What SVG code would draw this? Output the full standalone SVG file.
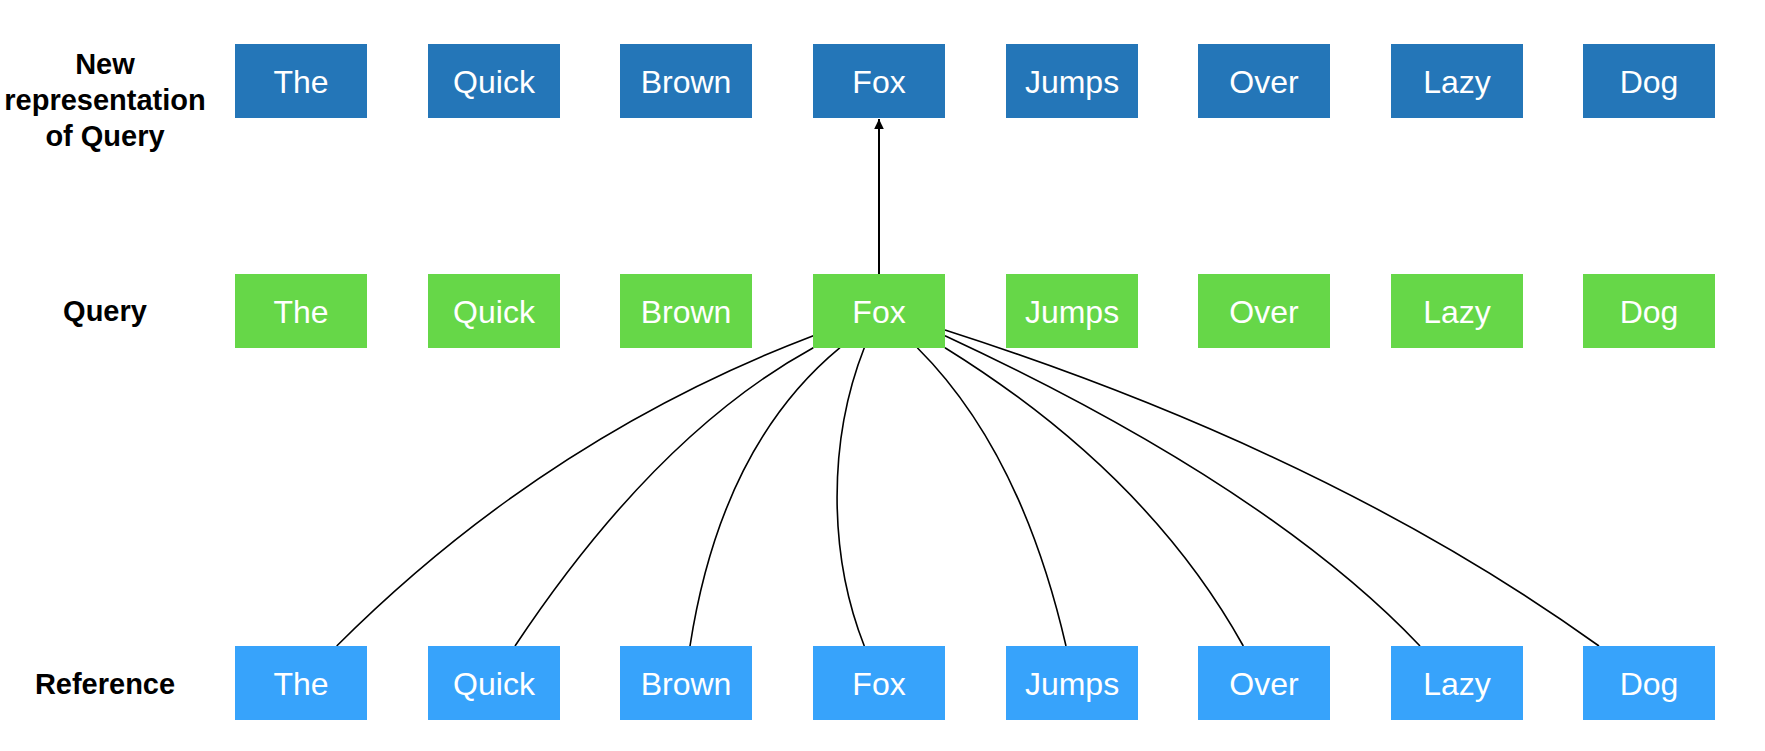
<svg xmlns="http://www.w3.org/2000/svg" width="1765" height="751" viewBox="0 0 1765 751">
<defs>
<style>
.out rect{fill:#2476B8}
.qry rect{fill:#66D748}
.ref rect{fill:#37A3FB}
.node text{font-family:"Liberation Sans",Arial,sans-serif;font-size:32px;fill:#ffffff;text-anchor:middle}
.lbl{font-family:"Liberation Sans",Arial,sans-serif;font-size:29px;font-weight:bold;fill:#000000;text-anchor:middle}
.conn path{fill:none;stroke:#000000;stroke-width:1.6}
.conn .arrow{stroke-width:2}
</style>
<marker id="ah" markerUnits="userSpaceOnUse" markerWidth="12" markerHeight="12" viewBox="0 0 12 12" refX="10" refY="6" orient="auto">
<path d="M0,1.2 L10,6 L0,10.8 Z" fill="#000000"/>
</marker>
</defs>
<rect width="1765" height="751" fill="#ffffff"/>

<g id="labels">
<text class="lbl" x="105" y="74">New</text>
<text class="lbl" x="105" y="110">representation</text>
<text class="lbl" x="105" y="146">of Query</text>
<text class="lbl" x="105" y="321">Query</text>
<text class="lbl" x="105" y="694">Reference</text>
</g>

<g id="connectors" class="conn">
<path class="arrow" d="M879,274 L879,119" marker-end="url(#ah)"/>
<path d="M813.3,335.7 Q545,438 336.7,646"/>
<path d="M813.3,347.7 Q656,434 515,646"/>
<path d="M840,347.7 Q721,446 690,646"/>
<path d="M864.3,347.7 C828,440 828,554 864.3,646"/>
<path d="M917.3,347.7 Q1021,451 1066,646"/>
<path d="M945,347.7 Q1147,473 1243.3,646"/>
<path d="M945,335.7 Q1268,486 1420,646"/>
<path d="M945,330 Q1332,454 1599,646"/>
</g>

<g id="out-the" class="node out"><rect x="235" y="44" width="132" height="74"/><text x="301" y="92.5">The</text></g>
<g id="out-quick" class="node out"><rect x="428" y="44" width="132" height="74"/><text x="494" y="92.5">Quick</text></g>
<g id="out-brown" class="node out"><rect x="620" y="44" width="132" height="74"/><text x="686" y="92.5">Brown</text></g>
<g id="out-fox" class="node out"><rect x="813" y="44" width="132" height="74"/><text x="879" y="92.5">Fox</text></g>
<g id="out-jumps" class="node out"><rect x="1006" y="44" width="132" height="74"/><text x="1072" y="92.5">Jumps</text></g>
<g id="out-over" class="node out"><rect x="1198" y="44" width="132" height="74"/><text x="1264" y="92.5">Over</text></g>
<g id="out-lazy" class="node out"><rect x="1391" y="44" width="132" height="74"/><text x="1457" y="92.5">Lazy</text></g>
<g id="out-dog" class="node out"><rect x="1583" y="44" width="132" height="74"/><text x="1649" y="92.5">Dog</text></g>

<g id="q-the" class="node qry"><rect x="235" y="274" width="132" height="74"/><text x="301" y="322.5">The</text></g>
<g id="q-quick" class="node qry"><rect x="428" y="274" width="132" height="74"/><text x="494" y="322.5">Quick</text></g>
<g id="q-brown" class="node qry"><rect x="620" y="274" width="132" height="74"/><text x="686" y="322.5">Brown</text></g>
<g id="q-fox" class="node qry"><rect x="813" y="274" width="132" height="74"/><text x="879" y="322.5">Fox</text></g>
<g id="q-jumps" class="node qry"><rect x="1006" y="274" width="132" height="74"/><text x="1072" y="322.5">Jumps</text></g>
<g id="q-over" class="node qry"><rect x="1198" y="274" width="132" height="74"/><text x="1264" y="322.5">Over</text></g>
<g id="q-lazy" class="node qry"><rect x="1391" y="274" width="132" height="74"/><text x="1457" y="322.5">Lazy</text></g>
<g id="q-dog" class="node qry"><rect x="1583" y="274" width="132" height="74"/><text x="1649" y="322.5">Dog</text></g>

<g id="r-the" class="node ref"><rect x="235" y="646" width="132" height="74"/><text x="301" y="694.5">The</text></g>
<g id="r-quick" class="node ref"><rect x="428" y="646" width="132" height="74"/><text x="494" y="694.5">Quick</text></g>
<g id="r-brown" class="node ref"><rect x="620" y="646" width="132" height="74"/><text x="686" y="694.5">Brown</text></g>
<g id="r-fox" class="node ref"><rect x="813" y="646" width="132" height="74"/><text x="879" y="694.5">Fox</text></g>
<g id="r-jumps" class="node ref"><rect x="1006" y="646" width="132" height="74"/><text x="1072" y="694.5">Jumps</text></g>
<g id="r-over" class="node ref"><rect x="1198" y="646" width="132" height="74"/><text x="1264" y="694.5">Over</text></g>
<g id="r-lazy" class="node ref"><rect x="1391" y="646" width="132" height="74"/><text x="1457" y="694.5">Lazy</text></g>
<g id="r-dog" class="node ref"><rect x="1583" y="646" width="132" height="74"/><text x="1649" y="694.5">Dog</text></g>
</svg>
